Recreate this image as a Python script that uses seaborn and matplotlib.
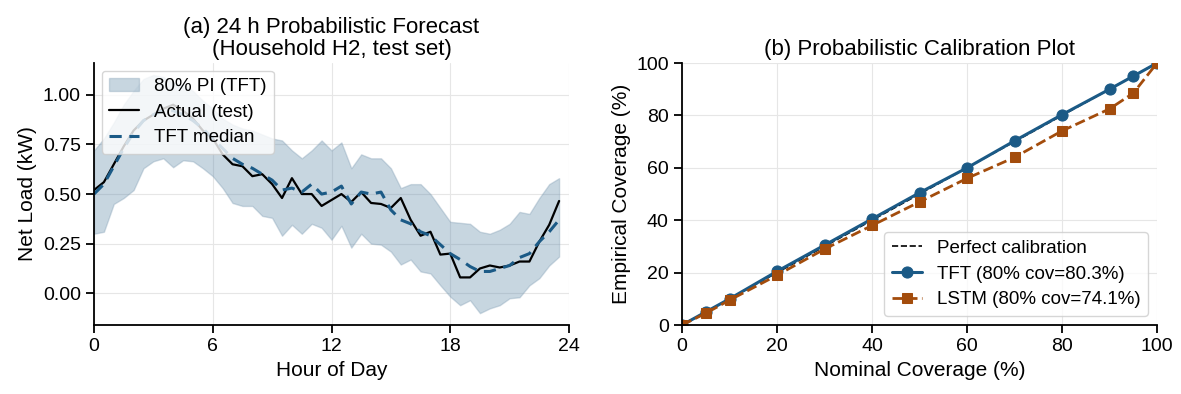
import matplotlib
matplotlib.use("Agg")
import matplotlib.pyplot as plt
import numpy as np
import pandas as pd
import seaborn as sns

# ---- panel (a) data: half-hourly, 0..23.5 h
hours = np.arange(0, 24, 0.5)
actual = [0.52, 0.56, 0.65, 0.74, 0.82, 0.87, 0.90, 0.93, 0.95, 0.92, 0.88, 0.82,
          0.78, 0.70, 0.65, 0.64, 0.59, 0.60, 0.55, 0.48, 0.58, 0.50, 0.50, 0.44,
          0.47, 0.50, 0.46, 0.51, 0.455, 0.45, 0.43, 0.48, 0.37, 0.29, 0.31, 0.195,
          0.20, 0.08, 0.08, 0.125, 0.14, 0.13, 0.14, 0.16, 0.16, 0.26, 0.345, 0.465]
median = [0.50, 0.55, 0.64, 0.73, 0.81, 0.87, 0.90, 0.92, 0.92, 0.90, 0.87, 0.83,
          0.78, 0.73, 0.68, 0.65, 0.63, 0.60, 0.57, 0.52, 0.53, 0.51, 0.55, 0.50,
          0.51, 0.54, 0.45, 0.51, 0.50, 0.51, 0.42, 0.37, 0.35, 0.31, 0.29, 0.245,
          0.20, 0.17, 0.135, 0.11, 0.11, 0.125, 0.14, 0.18, 0.20, 0.26, 0.31, 0.37]
upper = [0.72, 0.78, 0.86, 0.95, 1.02, 1.08, 1.10, 1.09, 1.06, 1.05, 1.02, 0.97,
         0.93, 0.88, 0.85, 0.83, 0.82, 0.80, 0.78, 0.77, 0.72, 0.68, 0.72, 0.77,
         0.72, 0.76, 0.63, 0.70, 0.68, 0.68, 0.63, 0.53, 0.55, 0.55, 0.50, 0.43,
         0.36, 0.355, 0.35, 0.31, 0.30, 0.32, 0.35, 0.41, 0.40, 0.48, 0.55, 0.58]
lower = [0.30, 0.31, 0.45, 0.48, 0.52, 0.63, 0.665, 0.68, 0.635, 0.67, 0.665, 0.63,
         0.59, 0.53, 0.455, 0.44, 0.44, 0.39, 0.38, 0.29, 0.345, 0.30, 0.35, 0.33,
         0.27, 0.34, 0.23, 0.30, 0.25, 0.245, 0.21, 0.145, 0.17, 0.11, 0.10, 0.04,
         -0.017, -0.06, -0.035, -0.10, -0.076, -0.06, -0.025, -0.02, 0.04, 0.076, 0.14, 0.185]

# ---- panel (b) data
nominal = [0, 5, 10, 20, 30, 40, 50, 60, 70, 80, 90, 95, 100]
tft_cov = [0, 5, 10, 20.5, 30.5, 40.5, 50.5, 60, 70.3, 80.3, 90, 95, 100]
lstm_cov = [0, 4.5, 9.5, 19, 29, 38, 47, 56, 64, 74.1, 82.5, 88.5, 100]

fc = pd.DataFrame({"hour": hours, "actual": actual, "median": median})
cal = pd.DataFrame({"nominal": nominal, "tft": tft_cov, "lstm": lstm_cov})

sns.set_style("whitegrid", {"grid.color": "#e6e6e6"})
plt.rcParams["font.family"] = ["Liberation Sans", "DejaVu Sans"]
for k in ("text.color", "axes.labelcolor", "xtick.color", "ytick.color"):
    plt.rcParams[k] = "black"

blue = "#1b5a86"
brown = "#a34c0c"

fig = plt.figure(figsize=(11.81, 3.94), dpi=100)
ax1 = fig.add_axes([0.0796, 0.175, 0.4022, 0.665])
ax2 = fig.add_axes([0.5775, 0.175, 0.4022, 0.665])

# (a) forecast
ax1.fill_between(hours, lower, upper, color="#5f8aa8", alpha=0.35,
                 edgecolor="#7f9cb2", linewidth=1.0, label="80% PI (TFT)")
sns.lineplot(data=fc, x="hour", y="actual", ax=ax1, color="black", lw=1.6,
             label="Actual (test)")
sns.lineplot(data=fc, x="hour", y="median", ax=ax1, color=blue, lw=2.2,
             linestyle=(0, (4, 2.5)), label="TFT median")
ax1.set_xlim(0, 24)
ax1.set_xticks([0, 6, 12, 18, 24])
ax1.set_yticks([0.0, 0.25, 0.5, 0.75, 1.0])
ax1.set_xlabel("Hour of Day", fontsize=15)
ax1.set_ylabel("Net Load (kW)", fontsize=15)
ax1.set_title("(a) 24 h Probabilistic Forecast\n(Household H2, test set)", fontsize=16,
              linespacing=1.05)
ax1.legend(loc="upper left", fontsize=13.5, framealpha=0.8, handlelength=1.6,
           borderaxespad=0.4, labelspacing=0.45, handletextpad=0.8)

# (b) calibration
ax2.plot([0, 100], [0, 100], color="black", lw=1.2, linestyle="--",
         label="Perfect calibration")
sns.lineplot(data=cal, x="nominal", y="tft", ax=ax2, color=blue, lw=2.2,
             marker="o", markersize=8, markeredgecolor=blue, label="TFT (80% cov=80.3%)")
sns.lineplot(data=cal, x="nominal", y="lstm", ax=ax2, color=brown, lw=2.0,
             linestyle="--", marker="s", markersize=7.5, markeredgecolor=brown,
             label="LSTM (80% cov=74.1%)")
ax2.set_xlim(0, 100)
ax2.set_ylim(0, 100)
ax2.set_xticks([0, 20, 40, 60, 80, 100])
ax2.set_yticks([0, 20, 40, 60, 80, 100])
ax2.set_xlabel("Nominal Coverage (%)", fontsize=15)
ax2.set_ylabel("Empirical Coverage (%)", fontsize=15)
ax2.set_title("(b) Probabilistic Calibration Plot", fontsize=16)
ax2.legend(loc="lower right", fontsize=13.5, framealpha=0.8, handlelength=1.6,
           labelspacing=0.45, handletextpad=0.8)

for ax in (ax1, ax2):
    sns.despine(ax=ax)
    for s in ("left", "bottom"):
        ax.spines[s].set_color("black")
        ax.spines[s].set_linewidth(1.3)
    ax.tick_params(axis="both", which="major", direction="out", length=6,
                   width=1.3, color="black", labelsize=14, left=True, bottom=True)

fig.savefig("out.png", dpi=100)
